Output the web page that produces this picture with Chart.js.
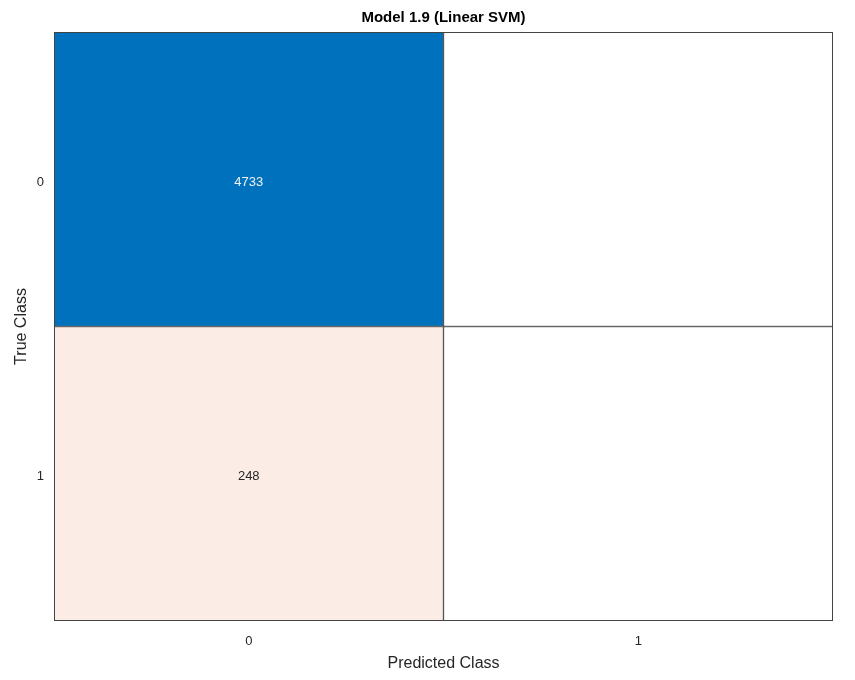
<!DOCTYPE html>
<html>
<head>
<meta charset="utf-8">
<title>Model 1.9 (Linear SVM)</title>
<script src="https://cdn.jsdelivr.net/npm/chart.js@4/dist/chart.umd.min.js"></script>
<style>
  html, body { margin: 0; padding: 0; background: #fff; }
  #wrap { width: 855px; height: 680px; }
</style>
</head>
<body>
<div id="wrap"><canvas id="cm"></canvas></div>
<script>
// Confusion matrix data (rows = true class, columns = predicted class)
const predictedClasses = ["0", "1"];
const trueClasses = ["0", "1"];
const countsTrue0 = [4733, 0];
const countsTrue1 = [248, 0];
const allCounts = [countsTrue0, countsTrue1];

const titleText = "Model 1.9 (Linear SVM)";
const FONT = "'Liberation Sans', Arial, Helvetica, sans-serif";

// MATLAB-like colouring: diagonal blue, off-diagonal orange-pink scaled by count
const maxCount = Math.max(...allCounts.flat());
function cellColor(row, col) {
  const v = allCounts[row][col];
  if (v === 0) return "#ffffff";
  if (row === col) {
    const t = v / maxCount;
    const mix = (a) => Math.round(255 + (a - 255) * t);
    return `rgb(${mix(0)},${mix(114)},${mix(189)})`;
  }
  const t = Math.min(1, v / maxCount);
  const mix = (a) => Math.round(255 + (a - 255) * (0.06 + 0.9 * t));
  return `rgb(${mix(217)},${mix(83)},${mix(25)})`;
}
function textColor(row, col) {
  return row === col && allCounts[row][col] / maxCount > 0.5 ? "#f0f0f0" : "#262626";
}

// each true class is one stacked band of height 1 on the y axis
const datasets = allCounts.map((row, r) => ({
  label: "True " + trueClasses[r],
  data: predictedClasses.map(() => 1),
  counts: row,
  backgroundColor: predictedClasses.map((_, c) => cellColor(r, c)),
  borderColor: "#444444",
  borderWidth: 1,
  borderSkipped: false,
  barPercentage: 1,
  categoryPercentage: 1
}));

const cellText = {
  id: "cellText",
  afterDatasetsDraw(chart) {
    const ctx = chart.ctx;
    ctx.save();
    ctx.font = "13px " + FONT;
    ctx.textAlign = "center";
    ctx.textBaseline = "middle";
    chart.data.datasets.forEach((ds, r) => {
      chart.getDatasetMeta(r).data.forEach((bar, c) => {
        const v = ds.counts[c];
        if (!v) return;
        const { x, y, base } = bar.getProps(["x", "y", "base"], true);
        ctx.fillStyle = textColor(r, c);
        ctx.fillText(String(v), x, (y + base) / 2 + 3);
      });
    });
    // outer frame
    const a = chart.chartArea;
    ctx.strokeStyle = "#444444";
    ctx.lineWidth = 1;
    ctx.strokeRect(a.left + 0.5, a.top + 0.5, a.right - a.left - 1, a.bottom - a.top - 1);
    // title centred over the plot area
    ctx.fillStyle = "#000";
    ctx.font = "bold 15px " + FONT;
    ctx.fillText(titleText, (a.left + a.right) / 2, 18);
    ctx.restore();
  }
};

new Chart(document.getElementById("cm"), {
  type: "bar",
  data: { labels: predictedClasses, datasets: datasets },
  options: {
    responsive: true,
    maintainAspectRatio: false,
    animation: false,
    layout: { padding: { top: 32, right: 22, left: 0, bottom: 0 } },
    plugins: {
      legend: { display: false },
      tooltip: {
        callbacks: {
          label: (item) => `True ${trueClasses[item.datasetIndex]}, Predicted ${item.label}: ${item.dataset.counts[item.dataIndex]}`
        }
      }
    },
    scales: {
      x: {
        stacked: true,
        grid: { display: false, drawTicks: false },
        border: { display: false },
        ticks: { color: "#262626", font: { family: FONT, size: 13 }, padding: 13 },
        title: { display: true, text: "Predicted Class", color: "#262626", font: { family: FONT, size: 16 }, padding: { top: 0, bottom: 7 } },
        afterFit: (s) => { s.height = 59; }
      },
      y: {
        stacked: true,
        reverse: true,
        min: 0,
        max: trueClasses.length,
        grid: { display: false, drawTicks: false },
        border: { display: false },
        afterBuildTicks: (s) => { s.ticks = trueClasses.map((_, i) => ({ value: i + 0.5 })); },
        ticks: {
          color: "#262626",
          font: { family: FONT, size: 13 },
          padding: 10,
          labelOffset: 3,
          callback: (v) => trueClasses[Math.floor(v)]
        },
        title: { display: true, text: "True Class", color: "#262626", font: { family: FONT, size: 16 }, padding: { top: 12, bottom: 0 } },
        afterFit: (s) => { s.width = 54; }
      }
    }
  },
  plugins: [cellText]
});
</script>
</body>
</html>
